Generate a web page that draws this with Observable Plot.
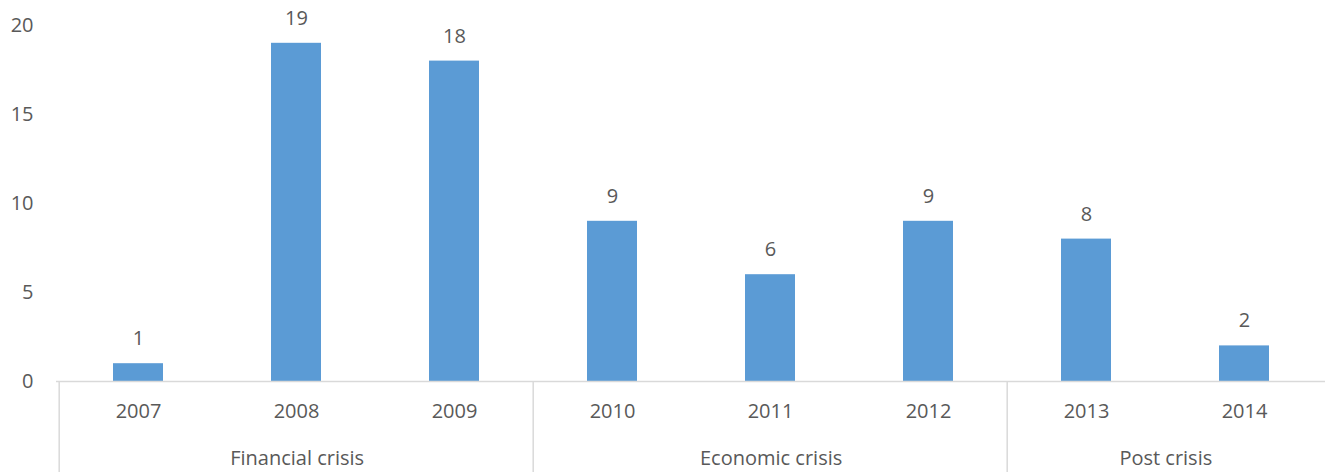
<!DOCTYPE html>
<html>
<head>
<meta charset="utf-8">
<script src="https://cdn.jsdelivr.net/npm/d3@7"></script>
<script src="https://cdn.jsdelivr.net/npm/@observablehq/plot@0.6"></script>
<style>
  html, body { margin: 0; padding: 0; background: #fff; }
  #chart svg { display: block; }
</style>
</head>
<body>
<div id="chart"></div>
<script>
const years = ["2007", "2008", "2009", "2010", "2011", "2012", "2013", "2014"];
const counts = [1, 19, 18, 9, 6, 9, 8, 2];
const groupNames = ["Financial crisis", "Economic crisis", "Post crisis"];
const groupStarts = ["2007", "2010", "2013"];
const groupSizes = [3, 3, 2];
const yTicks = [0, 5, 10, 15, 20];

const data = years.map((y, i) => ({year: y, value: counts[i]}));

const W = 1325, H = 472;
const mL = 56, mR = 0, mT = 25, mB = 91;
const step = (W - mL - mR) / years.length;
const plotH = H - mT - mB;
const lineColor = "#d9d9d9";
const textColor = "#595959";
const font = "'Open Sans', sans-serif";
const fs = 20;

const groupMarks = groupNames.map((name, i) =>
  Plot.text([name], {
    x: () => groupStarts[i],
    frameAnchor: "bottom",
    text: d => d,
    dx: (groupSizes[i] - 1) * step / 2,
    dy: 77,
    lineAnchor: "middle",
    fontSize: fs,
    fill: textColor
  })
);

const chart = Plot.plot({
  width: W,
  height: H,
  marginLeft: mL,
  marginRight: mR,
  marginTop: mT,
  marginBottom: mB,
  style: {fontFamily: font, fontSize: fs + "px", color: textColor, background: "#fff", overflow: "visible"},
  x: {domain: years, paddingInner: 0.685, paddingOuter: 0.3425, axis: null, label: null},
  y: {domain: [0, 20], axis: null, label: null},
  marks: [
    Plot.barY(data, {x: "year", y: "value", fill: "#5b9bd5"}),
    Plot.ruleY([0], {stroke: lineColor, strokeWidth: 1.5}),
    Plot.ruleX(groupStarts, {x: d => d, dx: -step / 2, insetTop: plotH, insetBottom: -mB, stroke: lineColor, strokeWidth: 1.5}),
    Plot.axisY({ticks: yTicks, tickSize: 0, tickPadding: 23, fontSize: fs, fill: textColor, label: null}),
    Plot.axisX({tickSize: 0, tickPadding: 22, fontSize: fs, fill: textColor, label: null}),
    Plot.text(data, {x: "year", y: "value", text: d => String(d.value), dy: -25, lineAnchor: "middle", fontSize: fs, fill: textColor}),
    ...groupMarks
  ]
});

document.getElementById("chart").appendChild(chart);
</script>
</body>
</html>
